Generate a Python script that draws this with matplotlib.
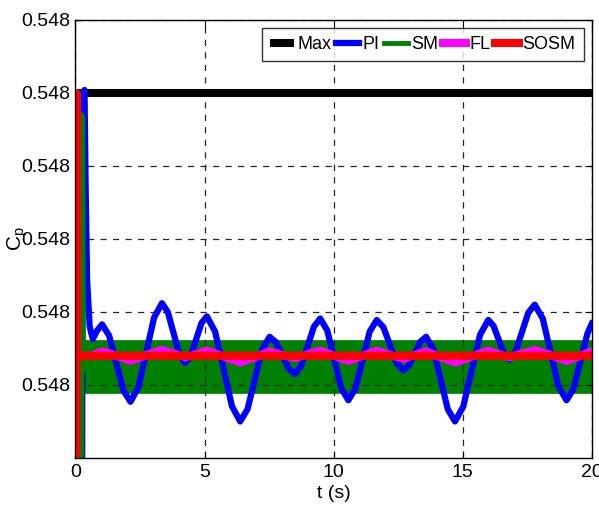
import matplotlib.pyplot as plt
from matplotlib.ticker import FormatStrFormatter

plt.rcParams['font.family'] = ['Liberation Sans', 'DejaVu Sans']
plt.rcParams['mathtext.default'] = 'regular'

# Cp offsets in units of 1e-5 above 0.548
BASE = 0.548
SCALE = 1e-5

max_t = [0, 20]
max_v = [5.0, 5.0]

pi_t = [0.26, 0.27, 0.35, 0.39, 0.45, 0.55, 0.67, 0.85, 1.03,
        1.305, 1.58, 1.855, 2.13, 2.435, 2.74, 3.045, 3.35,
        3.575, 3.80, 4.025, 4.25, 4.46, 4.67, 4.88, 5.09,
        5.41, 5.735, 6.06, 6.38, 6.665, 6.95, 7.235, 7.52,
        7.765, 8.01, 8.255, 8.5, 8.745, 8.99, 9.235, 9.48,
        9.7525, 10.025, 10.2975, 10.57, 10.845, 11.12, 11.395, 11.67,
        11.93, 12.185, 12.44, 12.7, 12.92, 13.14, 13.36, 13.58,
        13.86, 14.14, 14.42, 14.70, 15.02, 15.345, 15.67, 15.99,
        16.19, 16.395, 16.6, 16.8, 17.05, 17.295, 17.54, 17.79,
        18.10, 18.405, 18.71, 19.02, 19.29, 19.56, 19.83, 20.0]
pi_v = [0.0, 4.95, 5.04, 3.8, 2.44, 1.8, 1.63, 1.75, 1.83,
        1.675, 1.30, 0.925, 0.77, 0.967, 1.445, 1.923, 2.12,
        2.00, 1.71, 1.42, 1.30, 1.393, 1.62, 1.847, 1.94,
        1.73, 1.22, 0.71, 0.50, 0.669, 1.08, 1.491, 1.66,
        1.586, 1.405, 1.224, 1.15, 1.261, 1.53, 1.799, 1.91,
        1.746, 1.35, 0.954, 0.79, 0.951, 1.34, 1.729, 1.89,
        1.789, 1.545, 1.30, 1.20, 1.267, 1.43, 1.593, 1.66,
        1.491, 1.08, 0.669, 0.50, 0.703, 1.195, 1.687, 1.89,
        1.811, 1.62, 1.429, 1.35, 1.46, 1.725, 1.99, 2.10,
        1.909, 1.445, 0.981, 0.79, 0.946, 1.325, 1.704, 1.84]

sm_t = [0.24, 0.25, 0.28, 0.31]
sm_v = [0.0, 4.7, 4.6, 1.2]
sm_band_t = [0.30, 20.0]
sm_upper = [1.61, 1.61]
sm_lower = [0.89, 0.89]

fl_t = [0.10, 0.60, 1.03, 1.58, 2.13, 2.74, 3.35, 3.80, 4.25, 4.67, 5.09,
        5.735, 6.38, 6.95, 7.52, 8.01, 8.5, 8.99, 9.48, 10.025, 10.57,
        11.12, 11.67, 12.185, 12.7, 13.14, 13.58, 14.14, 14.70, 15.345,
        15.99, 16.395, 16.8, 17.295, 17.79, 18.405, 19.02, 19.56, 20.0]
fl_v = [1.40, 1.40, 1.46, 1.40, 1.33, 1.41, 1.48, 1.43, 1.38, 1.42, 1.47,
        1.39, 1.31, 1.38, 1.46, 1.41, 1.37, 1.42, 1.47, 1.40, 1.33,
        1.40, 1.47, 1.41, 1.36, 1.41, 1.46, 1.38, 1.31, 1.39,
        1.47, 1.42, 1.38, 1.43, 1.48, 1.41, 1.33, 1.40, 1.46]

sosm_t = [0.03, 0.04, 0.06, 20.0]
sosm_v = [0.0, 5.0, 1.40, 1.40]


def cp(vals):
    return [BASE + v * SCALE for v in vals]


fig = plt.figure(figsize=(5.99, 5.24), dpi=100)
ax = fig.add_axes([0.126, 0.126, 0.862, 0.836])

ax.plot(max_t, cp(max_v), color='k', lw=5.8, label='Max', solid_capstyle='butt')
ax.plot(pi_t, cp(pi_v), color='#0000ff', lw=4.5, label='PI', solid_joinstyle='round')
ax.plot(sm_t, cp(sm_v), color='#008000', lw=3.5, label='SM')
ax.fill_between(sm_band_t, cp(sm_lower), cp(sm_upper), color='#008000', lw=0.5)
ax.plot(fl_t, cp(fl_v), color='#ff00ff', lw=5.8, label='FL', solid_joinstyle='round')
ax.plot(sosm_t, cp(sosm_v), color='#ff0000', lw=5.8, label='SOSM')

ax.set_xlim(0, 20)
ax.set_ylim(BASE, BASE + 6 * SCALE)
ax.set_xticks([0, 5, 10, 15, 20])
ax.set_yticks(cp([1, 2, 3, 4, 5, 6]))
ax.yaxis.set_major_formatter(FormatStrFormatter('%.3f'))
ax.tick_params(direction='in', length=5, top=True, right=True, labelsize=14, pad=4)
ax.grid(True, color='0.15', linestyle=(0, (5, 5)), linewidth=0.9)
for s in ax.spines.values():
    s.set_linewidth(1.0)

ax.set_xlabel('t (s)', fontsize=14, labelpad=3)
ax.set_ylabel('C$_p$', fontsize=15)
ax.yaxis.set_label_coords(-0.088, 0.5)

leg = ax.legend(loc='upper right', ncol=5, fontsize=13, frameon=True, fancybox=False,
                edgecolor='k', handlelength=1.3, handletextpad=0.2, columnspacing=0.25,
                borderpad=0.45, borderaxespad=0.45)
leg.get_frame().set_linewidth(1.0)

fig.savefig('out.png', dpi=100)
